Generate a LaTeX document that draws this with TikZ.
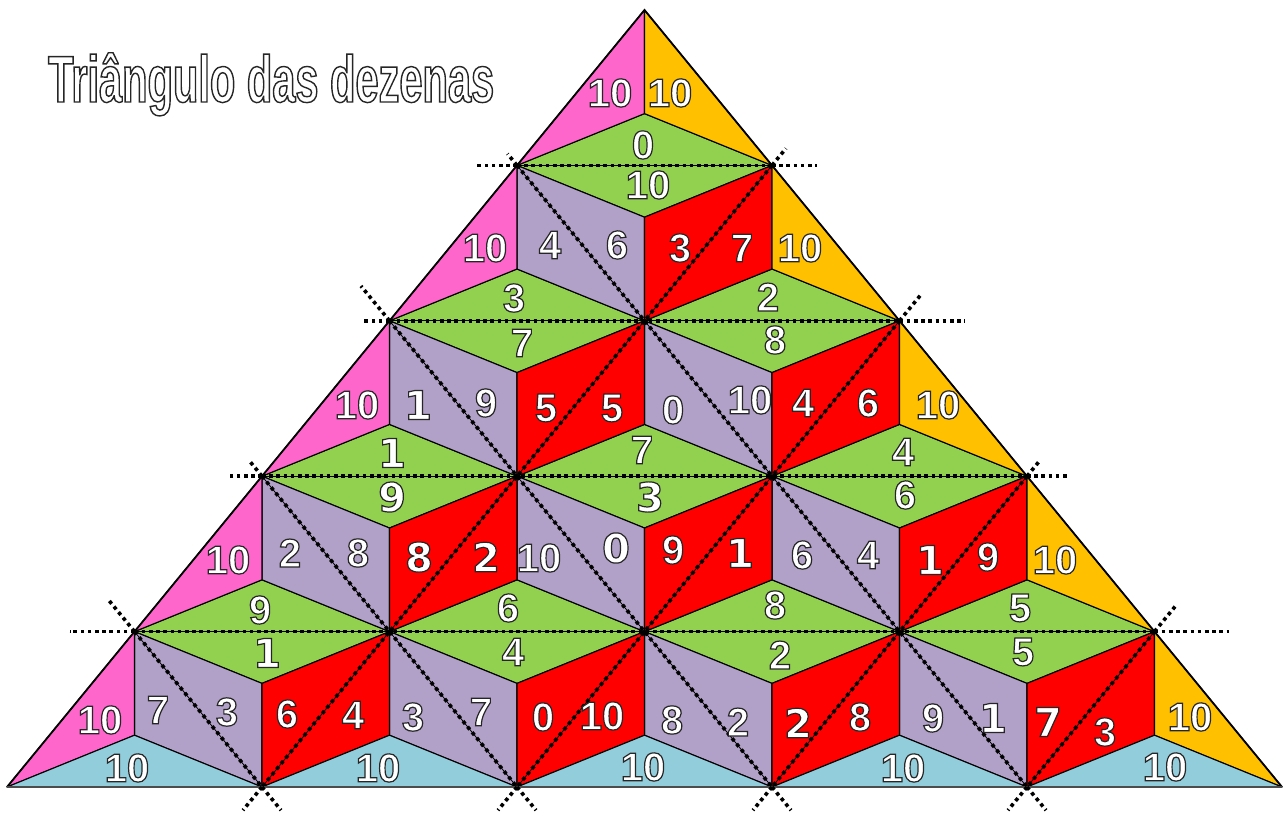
\documentclass[tikz,border=0pt]{standalone}
\usepackage{fontspec}
\setmainfont{Liberation Sans}
\newfontfamily\titlefont{Liberation Sans}[FakeStretch=0.63]
\newfontfamily\heavyfont{DejaVu Sans}
\usetikzlibrary{calc}
\definecolor{cpink}{HTML}{FF66CC}
\definecolor{corange}{HTML}{FFC000}
\definecolor{cgreen}{HTML}{92D050}
\definecolor{cpurple}{HTML}{B1A0C7}
\definecolor{cred}{HTML}{FF0000}
\definecolor{cblue}{HTML}{92CDDC}
\newcommand\outlinestart[1]{\special{pdf:literal direct q 2 Tr #1 w 1 g 0.15 0.15 0.15 RG}}
\newcommand\outlineend{\special{pdf:literal direct Q}}
\newcommand\ol[1]{\outlinestart{1.2}#1\outlineend}
\newcommand\olt[1]{\outlinestart{1.4}#1\outlineend}
\tikzset{
  region/.style={draw=black, line width=1.1pt, line join=round},
  thinline/.style={draw=black, line width=0.8pt},
  dotline/.style={draw=black, line width=3.6pt, dash pattern=on 3.6pt off 3.6pt},
  num/.style={font=\fontsize{40}{40}\selectfont\bfseries, text=white, inner sep=0pt},
  bnum/.style={num, font=\heavyfont\fontsize{40}{40}\selectfont\bfseries},
  titletext/.style={font=\titlefont\bfseries\fontsize{66}{66}\selectfont, text=white, inner sep=0pt}
}
\begin{document}
\begin{tikzpicture}[x=1pt,y=-1pt]
\useasboundingbox (0,0) rectangle (1286,824);
% grid points
\foreach \i in {0,...,5}{\foreach \j in {0,...,\i}{
  \coordinate (P-\i-\j) at ({644.5-127.5*\i+255*\j},{10+155.4*\i});}}
% centroids of up triangles
\foreach \i in {0,...,4}{\foreach \j in {0,...,\i}{
  \coordinate (U-\i-\j) at ({644.5-127.5*\i+255*\j},{113.6+155.4*\i});}}
% centroids of down triangles
\foreach \i in {1,...,4}{\pgfmathtruncatemacro\jm{\i-1}\foreach \j in {0,...,\jm}{
  \coordinate (D-\i-\j) at ({772-127.5*\i+255*\j},{61.8+155.4*\i});}}
% green kites (horizontal edges)
\foreach \i in {1,...,4}{\pgfmathtruncatemacro\im{\i-1}\foreach \j in {0,...,\im}{
  \pgfmathtruncatemacro\jp{\j+1}
  \filldraw[region,fill=cgreen] (P-\i-\j) -- (U-\im-\j) -- (P-\i-\jp) -- (D-\i-\j) -- cycle;}}
% purple kites
\foreach \i in {1,...,4}{\pgfmathtruncatemacro\ip{\i+1}\pgfmathtruncatemacro\im{\i-1}\foreach \j in {0,...,\im}{
  \pgfmathtruncatemacro\jp{\j+1}
  \filldraw[region,fill=cpurple] (P-\i-\j) -- (D-\i-\j) -- (P-\ip-\jp) -- (U-\i-\j) -- cycle;}}
% red kites
\foreach \i in {1,...,4}{\pgfmathtruncatemacro\ip{\i+1}\foreach \j in {1,...,\i}{
  \pgfmathtruncatemacro\jm{\j-1}
  \filldraw[region,fill=cred] (P-\i-\j) -- (U-\i-\j) -- (P-\ip-\j) -- (D-\i-\jm) -- cycle;}}
% boundary triangles
\foreach \i in {0,...,4}{\pgfmathtruncatemacro\ip{\i+1}
  \filldraw[region,fill=cpink] (P-\i-0) -- (U-\i-0) -- (P-\ip-0) -- cycle;
  \filldraw[region,fill=corange] (P-\i-\i) -- (U-\i-\i) -- (P-\ip-\ip) -- cycle;}
\foreach \j in {0,...,4}{\pgfmathtruncatemacro\jp{\j+1}
  \filldraw[region,fill=cblue] (P-5-\j) -- (U-4-\j) -- (P-5-\jp) -- cycle;}
% interior grid lines
\foreach \k in {1,...,4}{\pgfmathtruncatemacro\kk{5-\k}
  \draw[thinline] (P-\k-0) -- (P-\k-\k);
  \draw[dotline] (P-\k-0) -- (P-\k-\k);
  \draw[thinline] (P-\k-0) -- (P-5-\kk);
  \draw[dotline] (P-\k-0) -- (P-5-\kk);
  \draw[thinline] (P-\k-\k) -- (P-5-\k);
  \draw[dotline] (P-\k-\k) -- (P-5-\k);}
% outer border
\draw[line width=1.8pt, line join=miter] (P-5-0) -- (P-0-0) -- (P-5-5);
\draw[line width=2pt, draw=black!70] (P-5-0) -- (P-5-5);
% extensions outside
\foreach \k/\hl/\hr/\dl/\dr in {1/42pt/45pt/15pt/22pt, 2/28pt/65pt/45pt/33pt, 3/33pt/40pt/20pt/18pt, 4/65pt/74pt/42pt/33pt}{
  \pgfmathtruncatemacro\kk{5-\k}
  \draw[dotline] (P-\k-0) -- ($(P-\k-0)!-\hl!(P-\k-\k)$);
  \draw[dotline] (P-\k-\k) -- ($(P-\k-\k)!-\hr!(P-\k-0)$);
  \draw[dotline] (P-\k-0) -- ($(P-\k-0)!-\dl!(P-5-\kk)$);
  \draw[dotline] (P-\k-\k) -- ($(P-\k-\k)!-\dr!(P-5-\k)$);
  \draw[dotline] (P-5-\kk) -- ($(P-5-\kk)!-30pt!(P-\k-0)$);
  \draw[dotline] (P-5-\k) -- ($(P-5-\k)!-30pt!(P-\k-\k)$);}
% title
\node[titletext, anchor=base west] (title) at (48,102) {\olt{Triângulo das dezenas}};
% labels
\foreach \n/\x/\y/\t in {a1/610/93/10, a2/670/93/10, b1/643/145/0, b2/648/185/10,
  c1/485/248/10, c2/550/245/4, c3/617/245/6, c4/680/248/3, c5/742/248/7, c6/800/248/10,
  d1/514/298/3, d2/522/343/7, d3/768/297/2, d4/775/340/8,
  e1/357/405/10, e3/486/403/9, e4/546/408/5, e5/612/408/5, e6/673/410/0, e7/750/400/10,
  e8/803/403/4, e9/868/403/6, e10/938/405/10,
  f3/642/450/7, f5/903/452/4, f6/905/495/6,
  h1/228/560/10, h2/290/553/2, h3/358/553/8, h6/539/558/10, h8/673/550/9, h10/802/555/6,
  h11/868/555/4, h13/988/557/9, h14/1055/560/10,
  k1/260/610/9, k3/508/608/6, k4/513/652/4, k5/775/605/8, k6/780/655/2, k7/1020/608/5, k8/1023/652/5,
  m1/100/720/10, m2/158/710/7, m3/227/712/3, m4/287/714/6, m5/353/715/4, m6/413/717/3,
  m7/481/712/7, m8/543/717/0, m9/602/716/10, m10/672/720/8, m11/738/722/2, m13/860/717/8,
  m14/933/718/9, m17/1105/732/3, m18/1190/717/10,
  n1/127/768/10, n2/378/768/10, n3/643/767/10, n4/903/768/10, n5/1165/767/10}{
  \node[num] (\n) at (\x,\y) {\ol{\t}};}
\foreach \n/\x/\y/\t in {e2/418/405/1, f1/392/453/1, f2/392/497/9, f4/650/497/3,
  h4/419/557/8, h5/486/557/2, h7/616/548/0, h9/740/553/1, h12/930/560/1, k2/267/653/1,
  m12/798/723/2, m15/993/718/1, m16/1048/722/7}{
  \node[bnum] (\n) at (\x,\y) {\ol{\t}};}
\end{tikzpicture}
\end{document}
